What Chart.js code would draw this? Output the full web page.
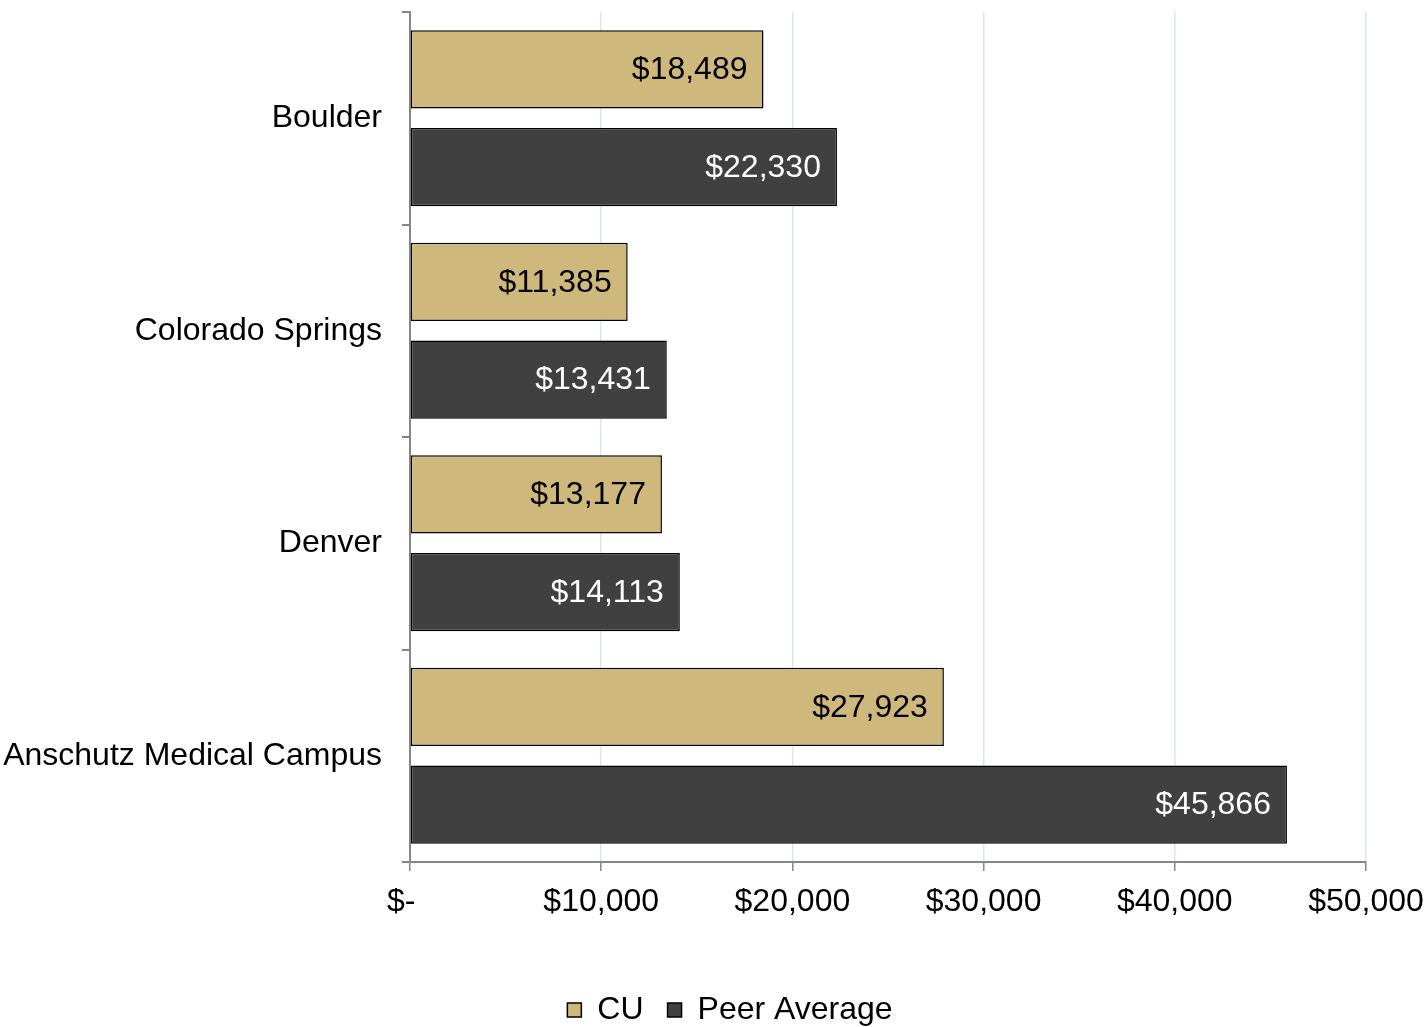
<!DOCTYPE html>
<html>
<head>
<meta charset="utf-8">
<title>CU vs Peer Average</title>
<script src="https://cdn.jsdelivr.net/npm/chart.js@4/dist/chart.umd.min.js"></script>
<style>
  html, body { margin: 0; padding: 0; background: #fff; }
  #wrap { width: 1427px; height: 1027px; }
</style>
</head>
<body>
<div id="wrap"><canvas id="chart"></canvas></div>
<script>
const campuses = ['Boulder', 'Colorado Springs', 'Denver', 'Anschutz Medical Campus'];
const cuValues = [18489, 11385, 13177, 27923];
const peerValues = [22330, 13431, 14113, 45866];
const xTicks = [0, 10000, 20000, 30000, 40000, 50000];

const money = v => v === 0 ? '$-' : '$' + v.toLocaleString('en-US');

Chart.defaults.font.family = "'Liberation Sans', Arial, sans-serif";
Chart.defaults.font.size = 32;
Chart.defaults.color = '#000';

// value labels inside the end of each bar
const barLabels = {
    id: 'barLabels',
    afterDatasetsDraw(chart) {
        const ctx = chart.ctx;
        ctx.save();
        ctx.font = "32px 'Liberation Sans', Arial, sans-serif";
        ctx.textAlign = 'right';
        ctx.textBaseline = 'middle';
        chart.data.datasets.forEach((ds, i) => {
            chart.getDatasetMeta(i).data.forEach((bar, j) => {
                ctx.fillStyle = ds.labelColor;
                ctx.fillText(money(ds.data[j]), bar.x - 16, bar.y + 1);
            });
        });
        ctx.restore();
    }
};

// legend sits a bit right of the canvas centre, like the original
const legendShift = {
    id: 'legendShift',
    afterLayout(chart) {
        chart.legend.left += 47;
        chart.legend.right += 47;
        chart.legend.top -= 2;
        chart.legend.bottom -= 2;
    }
};

new Chart(document.getElementById('chart'), {
    type: 'bar',
    data: {
        labels: campuses,
        datasets: [{
            label: 'CU',
            data: cuValues,
            backgroundColor: '#CFB87C',
            borderColor: '#000',
            borderWidth: 1.5,
            borderSkipped: false,
            labelColor: '#000'
        }, {
            label: 'Peer Average',
            data: peerValues,
            backgroundColor: '#404040',
            borderColor: '#000',
            borderWidth: 1.5,
            borderSkipped: false,
            labelColor: '#fff'
        }]
    },
    options: {
        indexAxis: 'y',
        responsive: true,
        maintainAspectRatio: false,
        animation: false,
        categoryPercentage: 0.92,
        barPercentage: 0.8,
        layout: { padding: { top: 12, right: 61, bottom: -11, left: 0 } },
        plugins: {
            tooltip: { enabled: false },
            legend: {
                position: 'bottom',
                labels: {
                    boxWidth: 14,
                    boxHeight: 14,
                    padding: 24,
                    font: { size: 32 }
                }
            }
        },
        scales: {
            x: {
                min: 0,
                max: 50000,
                afterBuildTicks: scale => { scale.ticks = xTicks.map(v => ({ value: v })); },
                afterFit: scale => {
                    scale.height = 110;
                    scale.paddingLeft = 0;
                    scale.paddingRight = 0;
                },
                ticks: {
                    padding: 12,
                    maxRotation: 0,
                    // accounting style: the zero dash sits left of its tick
                    callback: v => v === 0 ? '$-  ' : money(v)
                },
                grid: {
                    color: '#DCE6F2',
                    tickColor: '#868686',
                    tickLength: 9,
                    lineWidth: 1.5
                },
                border: { color: '#868686', width: 2 }
            },
            y: {
                afterFit: scale => {
                    scale.width = 410;
                    scale.paddingTop = 0;
                    scale.paddingBottom = 0;
                },
                ticks: { padding: 20 },
                grid: {
                    drawOnChartArea: false,
                    color: '#868686',
                    tickLength: 8,
                    lineWidth: 2
                },
                border: { color: '#868686', width: 2 }
            }
        }
    },
    plugins: [barLabels, legendShift]
});
</script>
</body>
</html>
